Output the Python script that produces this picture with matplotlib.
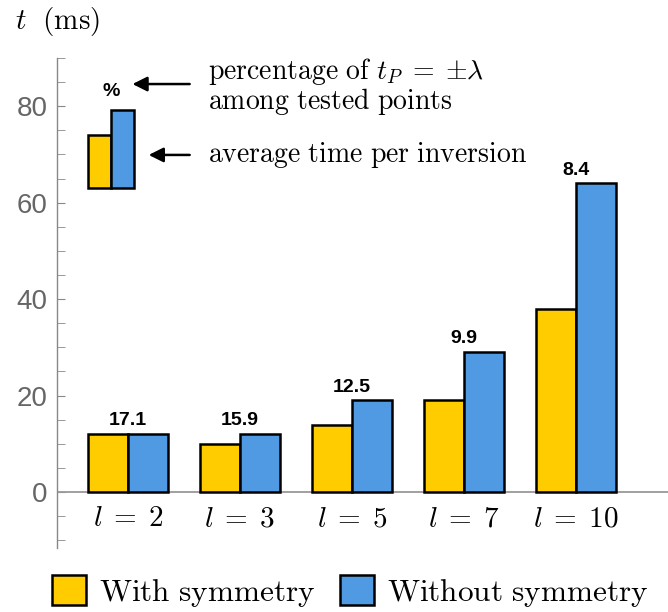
import matplotlib
matplotlib.use("Agg")
import matplotlib.pyplot as plt
import numpy as np
from matplotlib.patches import Patch

plt.rcParams['mathtext.fontset'] = 'cm'

# data
grupos = [r'$l\;=\;2$', r'$l\;=\;3$', r'$l\;=\;5$', r'$l\;=\;7$', r'$l\;=\;10$']
com_simetria = [12.0, 10.0, 14.0, 19.0, 38.0]
sem_simetria = [12.0, 12.0, 19.0, 29.0, 64.0]
percentagens = ['17.1', '15.9', '12.5', '9.9', '8.4']

# mini legenda (barras de exemplo)
exemplo_base = 63.0
exemplo_alturas = [74.0, 79.3]

amarelo = '#FFCC00'
azul = '#4F9AE3'

fig = plt.figure(figsize=(6.68, 6.12), dpi=100)
ax = fig.add_axes([57/668, 1 - 548/612, 611/668, 490/612])

x = np.arange(len(grupos))
w = 0.357
ax.bar(x - w/2, com_simetria, w, color=amarelo, edgecolor='black', linewidth=1.8, zorder=3)
ax.bar(x + w/2, sem_simetria, w, color=azul, edgecolor='black', linewidth=1.8, zorder=3)

for i in range(len(grupos)):
    topo = max(com_simetria[i], sem_simetria[i])
    ax.text(x[i], topo + 1.0, percentagens[i], ha='center', va='bottom',
            fontsize=14, fontweight='bold', family='Liberation Sans')
    # rotulos do eixo x
    ax.text(x[i], -5.4, grupos[i], ha='center', va='center', fontsize=21)

# barras do exemplo
we = 0.205
ax.bar([-0.152 - we/2, -0.152 + we/2],
       [h - exemplo_base for h in exemplo_alturas], we, bottom=exemplo_base,
       color=[amarelo, azul], edgecolor='black', linewidth=1.8, zorder=3)
ax.text(-0.152, 81.2, '%', ha='center', va='bottom', fontsize=14,
        fontweight='bold', family='Liberation Sans')

ax.annotate('', xy=(0.015, 84.6), xytext=(0.575, 84.6),
            arrowprops=dict(arrowstyle='-|>', color='black', lw=1.8, mutation_scale=22))
ax.annotate('', xy=(0.16, 69.9), xytext=(0.575, 69.9),
            arrowprops=dict(arrowstyle='-|>', color='black', lw=1.8, mutation_scale=22))
ax.text(0.714, 87.3, r'$\mathrm{percentage\ of\ }t_P\;=\;{\pm}\lambda$', fontsize=20, va='center')
ax.text(0.714, 81.0, r'$\mathrm{among\ tested\ points}$', fontsize=20, va='center')
ax.text(0.714, 69.9, r'$\mathrm{average\ time\ per\ inversion}$', fontsize=20, va='center')

# eixos
ax.set_xlim(-0.634, 4.82)
ax.set_ylim(-11.6, 90)
ax.axhline(0, color='#999999', lw=1.3, zorder=2)
for s in ['top', 'right', 'bottom']:
    ax.spines[s].set_visible(False)
ax.spines['left'].set_color('#888888')
ax.spines['left'].set_linewidth(1.0)
ax.set_yticks([0, 20, 40, 60, 80])
ax.set_yticks(np.arange(-10, 91, 5), minor=True)
ax.tick_params(axis='y', which='both', direction='in', length=6, color='#888888',
               labelcolor='#666666', labelsize=20, pad=7)
for lab in ax.get_yticklabels():
    lab.set_family('Liberation Sans')
ax.set_xticks([])

fig.text(15/668, 1 - 21/612, r'$t\ \ \mathrm{(ms)}$', fontsize=21, va='center', ha='left')

# legenda inferior
handles = [Patch(facecolor=amarelo, edgecolor='black', linewidth=1.8),
           Patch(facecolor=azul, edgecolor='black', linewidth=1.8)]
fig.legend(handles, [r'$\mathrm{With\ symmetry}$', r'$\mathrm{Without\ symmetry}$'],
           loc='center', bbox_to_anchor=(350/668, 1 - 592/612), ncol=2, frameon=False,
           fontsize=22.5, handlelength=1.1, handleheight=1.1, handletextpad=0.4,
           columnspacing=0.8, borderpad=0)

plt.savefig('out.png', dpi=100)
